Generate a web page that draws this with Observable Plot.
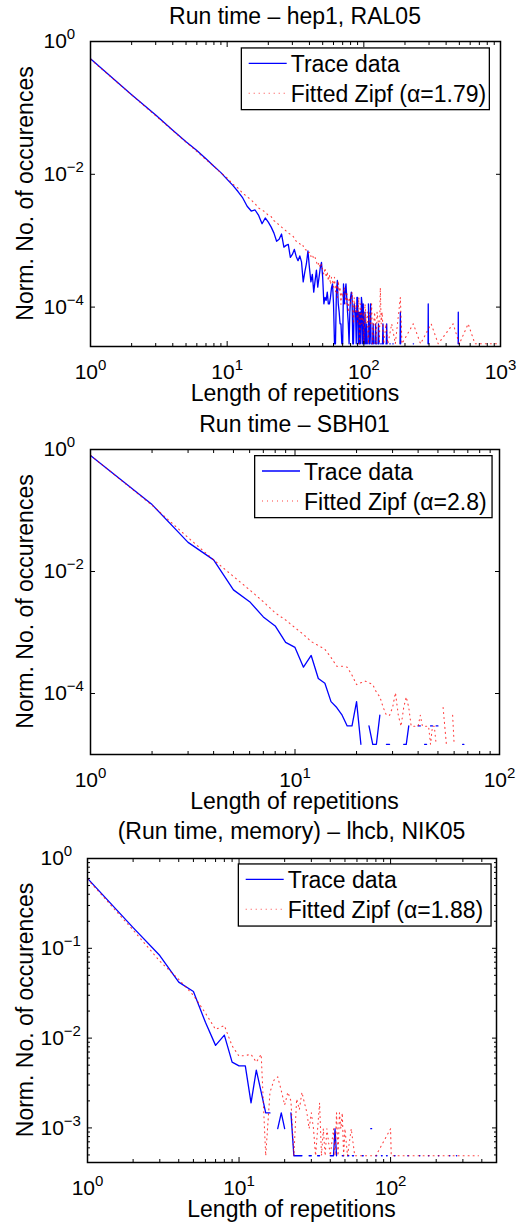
<!DOCTYPE html>
<html><head><meta charset="utf-8">
<script src="https://cdn.jsdelivr.net/npm/d3@7"></script>
<script src="https://cdn.jsdelivr.net/npm/@observablehq/plot@0.6"></script>
<style>
body{margin:0;background:#fff;font-family:"Liberation Sans",Arial,sans-serif;}
.panel{position:relative;width:518px;height:408px;}
</style></head><body><div id="wrap"></div>
<script>
// ---------- data ----------
const titles = ["Run time \u2013 hep1, RAL05", "Run time \u2013 SBH01", "(Run time, memory) \u2013 lhcb, NIK05"];
const xLabel = "Length of repetitions";
const yLabel = "Norm. No. of occurences";
const seriesNames = ["Trace data", "Fitted Zipf"];
const alphas = ["1.79", "2.8", "1.88"];

const trace1 = [[1,0.55],[2,0.158],[3,0.078],[4,0.046],[5,0.031],[6,0.0228],[7,0.0172],[8,0.0132],[9,0.0106],[10,0.0084],
[11,0.0068],[12,0.0055],[13,0.0044],[14,0.0033],[15,0.0028],[16,0.0029],[17,0.0024],[18,0.0018],[19,0.0022],[20,0.0019],
[21,0.0016],[22,0.0013],[23,0.00098],[24,0.00105],[25,0.00126],[26,0.0008],[27,0.00085],[28,0.00088],[29,0.00056],[30,0.00062],
[31,0.00074],[32,0.00058],[33,0.0005],[34,0.00059],[35,0.00048],[36,0.00024],[37,0.00034],[38,0.00045],[39,0.0007],[40,0.00039],
[41,0.00024],[42,0.00031],[43,0.000168],[44,0.00025],[45,0.00036],[46,0.0002],[47,0.00028],[48,0.00039],[49,0.00047],[50,0.00028],
[51,0.000112],[52,0.00014],[53,0.000126],[54,0.000168],[55,0.000112],[56,0.000112],[57,0.00014],[58,0.000196],[59,0.000224],[60,0.000112],
[61,2.8e-5],[62,2.8e-5],[63,0.000168],[64,0.000252],[65,0.000112],[66,0.000084],[67,0.000056],[68,0.000056],[69,2.8e-5],[70,2.8e-5],
[71,0.000224],[72,0.000112],[73,0.000168],[74,0.000224],[75,0.00014],[76,0.000084],[77,0.000056],[78,2.8e-5],[79,0.000084],[80,0.00014],
[81,0.000168],[82,0.00014],[83,2.8e-5],[84,2.8e-5],[85,0.000112],[86,0.000084],[87,0.000084],[88,2.8e-5],[89,0.00014],[90,0.00014],
[91,2.8e-5],[92,0.000084],[93,2.8e-5],[94,0.000084],[95,2.8e-5],[96,0.00014],[97,0.000112],[98,2.8e-5],[99,0.000112],[100,2.8e-5],
[101,2.8e-5],[102,0.000084],[103,2.8e-5],[104,2.8e-5],[105,0.000056],[106,2.8e-5],[107,null],[108,0.000112],[109,2.8e-5],[110,2.8e-5],
[112,0.000112],[113,2.8e-5],[114,2.8e-5],[115,null],[116,2.8e-5],[117,0.000056],[118,2.8e-5],[119,null],
[121,2.8e-5],[122,0.000056],[123,2.8e-5],[124,2.8e-5],[125,null],[127,2.8e-5],[128,0.000056],[129,2.8e-5],[130,null],
[133,2.8e-5],[134,2.8e-5],[135,null],[137,2.8e-5],[138,0.000056],[139,2.8e-5],[140,null],
[145,2.8e-5],[146,2.8e-5],[147,0.000056],[148,2.8e-5],[149,null],[155,2.8e-5],[156,2.8e-5],[157,null],
[163,2.8e-5],[164,2.8e-5],[165,null],[184,2.8e-5],[185,0.000084],[186,2.8e-5],[187,null],
[230,2.8e-5],[231,2.8e-5],[232,null],[295,2.8e-5],[296,0.000112],[297,2.8e-5],[298,null],
[490,2.8e-5],[491,0.000084],[492,2.8e-5]];

const fit1 = [[1,0.54],[2,0.157],[3,0.076],[4,0.0455],[5,0.0305],[6,0.0221],[7,0.0166],[8,0.0132],[9,0.0105],[10,0.0088],
[11,0.0071],[12,0.0062],[13,0.0052],[14,0.0046],[15,0.0041],[16,0.0036],[17,0.0031],[18,0.0029],[19,0.0027],[20,0.0024],
[21,0.0023],[22,0.002],[23,0.0019],[24,0.0017],[25,0.0016],[26,0.0015],[27,0.0014],[28,0.0013],[29,0.00125],[30,0.0012],
[31,0.0011],[32,0.00098],[33,0.00096],[34,0.0009],[35,0.00082],[36,0.00084],[37,0.00074],[38,0.00072],[39,0.00065],[40,0.00067],
[41,0.00058],[42,0.00062],[43,0.00053],[44,0.00056],[45,0.00048],[46,0.00042],[47,0.00047],[48,0.00039],[49,0.00044],[50,0.00036],
[51,0.00031],[52,0.00039],[53,0.00028],[54,0.00034],[55,0.00025],[56,0.00031],[57,0.00022],[58,0.00028],[59,0.00025],[60,0.0002],
[61,0.00028],[62,0.00017],[63,0.00022],[64,0.00014],[65,0.00025],[66,0.00017],[67,0.0002],[68,0.00011],[69,0.00017],[70,0.00014],
[72,0.0002],[74,0.000112],[75,0.00017],[77,0.000084],[78,0.00014],[80,0.000112],[82,0.000168],[84,0.000056],[85,0.00014],[87,0.000084],
[88,0.000112],[90,0.000056],[92,0.00014],[93,2.8e-5],[95,0.000112],[97,0.000056],[99,0.000084],[100,2.8e-5],[102,0.000112],[104,0.000056],
[106,0.000084],[108,2.8e-5],[110,0.000084],[112,0.000056],[114,0.000112],[116,2.8e-5],[118,0.000056],[120,0.000084],[123,2.8e-5],[125,0.000084],
[128,0.000056],[130,2.8e-5],[132,0.000196],[134,0.000056],[136,0.000084],[140,2.8e-5],[145,0.000056],[150,2.8e-5],[160,0.000056],[170,2.8e-5],
[180,0.000084],[185,0.00014],[190,2.8e-5],[230,0.000056],[260,2.8e-5],[311,0.000056],[350,2.8e-5],[450,0.000056],[500,2.8e-5],[580,0.000056],[650,2.8e-5],[1000,2.8e-5]];

const trace2 = [[1,0.8],[2,0.125],[3,0.03],[4,0.0155],[5,0.005],[6,0.0032],[7,0.0018],[8,0.00128],[9,0.00069],[10,0.00057],
[11,0.00027],[12,0.00042],[13,0.000176],[14,0.000147],[15,0.0000735],[16,0.0000588],[17,0.0000441],[18,0.0000294],[19,0.0000294],[20,0.0000735],
[21,0.0000147],[22,null],[23,0.0000294],[24,0.0000147],[25,0.0000147],[26,0.0000441],[27,null],[28,0.0000147],[29,0.0000147],[30,null],
[34,0.0000147],[35,0.0000147],[36,0.0000294],[37,null],[40,0.0000294],[41,0.0000294],[42,null],[43,0.0000147],[44,0.0000147],[45,null],
[46,0.0000294],[47,0.0000294],[48,null],[49,0.0000294],[50,0.0000294],[51,null],[66,0.0000147],[67,0.0000147]];

const fit2 = [[1,0.8],[2,0.122],[3,0.036],[4,0.0155],[5,0.0083],[6,0.005],[7,0.0032],[8,0.0021],[9,0.0016],[10,0.0012],
[11,0.00093],[12,0.00071],[13,0.00061],[14,0.00053],[15,0.00039],[16,0.00028],[17,0.00028],[18,0.00027],[19,0.0002],[20,0.00014],
[21,0.00015],[22,0.00016],[23,0.00015],[24,0.00014],[25,0.000105],[26,0.000088],[27,0.000059],[28,0.000044],[29,0.000044],[30,0.000059],
[31,0.000103],[32,0.000044],[33,0.000029],[34,0.000059],[35,0.000088],[36,0.000059],[37,0.000029],[38,0.000029],[39,0.000029],[40,0.000029],
[41,0.000044],[42,0.000029],[43,0.000029],[44,0.000029],[45,0.000029],[46,0.0000147],[47,0.000029],[48,0.000029],[49,0.0000147],[50,null],
[53,0.000059],[54,0.000029],[55,0.0000147],[56,0.0000147],[57,null],[59,0.000044],[60,0.0000147],[61,null]];

const trace3 = [[1,0.6],[2,0.17],[3,0.083],[4,0.042],[5,0.033],[6,0.015],[7,0.0083],[8,0.0108],[9,0.0054],[10,0.0049],
[11,0.0049],[12,0.0019],[13,0.0044],[14,0.0025],[15,0.00147],[16,0.00147],[17,null],[18,0.00098],[19,0.00147],[20,0.00098],
[21,null],[22,0.00147],[23,0.00049],[24,0.00049],[25,0.00049],[26,0.00049],[27,null],[29,0.00049],[30,0.00049],[31,null],
[33,0.00049],[34,0.00049],[35,null],[40,0.00049],[41,0.00049],[42,0.00049],[43,0.00098],[44,0.00049],[45,null],
[48,0.00049],[49,0.00049],[50,null],[52,0.00049],[53,0.00049],[54,null],[56,0.00049],[57,0.00049],[58,null],
[65,0.00049],[66,0.00049],[67,null],[74,0.00098],[75,0.00098],[76,null],[80,0.00049],[81,0.00049],[82,null],
[87,0.00049],[88,0.00049],[89,null],[94,0.00049],[95,0.00049],[96,null],[106,0.00049],[107,0.00049],[108,null],
[130,0.00049],[131,0.00049],[132,null],[155,0.00049],[156,0.00049],[157,null],[178,0.00049],[179,0.00049],[180,null],
[207,0.00049],[208,0.00049],[209,null],[245,0.00049],[246,0.00049],[247,null],[272,0.00049],[273,0.00049]];

const fit3 = [[1,0.59],[2,0.16],[3,0.072],[4,0.045],[5,0.03],[6,0.019],[7,0.0125],[8,0.0138],[9,0.0082],[10,0.0063],
[11,0.0064],[12,0.0066],[13,0.0054],[14,0.0066],[15,0.00049],[16,0.0025],[17,0.0034],[18,0.0037],[19,0.0026],[20,0.0018],
[21,0.0025],[22,0.002],[23,0.00049],[24,0.0021],[25,0.0016],[26,0.0025],[27,0.0019],[28,0.0015],[29,0.00098],[30,0.00147],
[31,0.00098],[32,0.00049],[33,0.00098],[34,0.0019],[35,0.00049],[36,0.00098],[37,0.00049],[38,0.00098],[40,0.00049],[42,0.00098],
[43,0.00049],[44,0.00147],[45,0.00049],[46,0.00147],[47,0.00098],[48,0.00147],[49,0.00049],[50,0.00098],[52,0.00049],[55,0.00098],
[58,0.00049],[65,0.00049],[70,0.00049],[80,0.00049],[100,0.00098],[101,0.00049],[120,0.00049],[150,0.00049],[200,0.00049],[250,0.00049],[300,0.00049],[380,0.00049]];

// ticks and tick labels
const xMajor1 = [1, 10, 100, 1000];
const xMajorLabels1 = ["10^0", "10^1", "10^2", "10^3"];
const xMinor1 = [2,3,4,5,6,7,8,9,20,30,40,50,60,70,80,90,200,300,400,500,600,700,800,900];
const xMajor2 = [1, 10, 100];
const xMajorLabels2 = ["10^0", "10^1", "10^2"];
const xMinor2 = [2,3,4,5,6,7,8,9,20,30,40,50,60,70,80,90];
const xMinor3 = [2,3,4,5,6,7,8,9,20,30,40,50,60,70,80,90,200,300,400];
const yMajorA = [1, 0.01, 0.0001];
const yMajorLabelsA = ["10^0", "10^\u22122", "10^\u22124"];
const yMajor3 = [1, 0.1, 0.01, 0.001];
const yMajorLabels3 = ["10^0", "10^\u22121", "10^\u22122", "10^\u22123"];
const yMinor3 = [0.9,0.8,0.7,0.6,0.5,0.4,0.3,0.2,0.09,0.08,0.07,0.06,0.05,0.04,0.03,0.02,
  0.009,0.008,0.007,0.006,0.005,0.004,0.003,0.002,0.0009,0.0008,0.0007,0.0006,0.0005];

// ---------- layout ----------
const panels = [
  {trace: trace1, fit: fit1, xDomain: [1, 1000], yDomain: [2.55e-5, 1], xMajor: xMajor1, xLabels: xMajorLabels1, xMinor: xMinor1,
   yMajor: yMajorA, yLabels: yMajorLabelsA, yMinor: [], mt: 41, ml: 90, mr: 18, titleBase: 24, legend: {left: 240.7, top: 47.3, w: 249.3, h: 63}},
  {trace: trace2, fit: fit2, xDomain: [1, 100], yDomain: [1e-5, 1], xMajor: xMajor2, xLabels: xMajorLabels2, xMinor: xMinor2,
   yMajor: yMajorA, yLabels: yMajorLabelsA, yMinor: [], mt: 41, ml: 90, mr: 19, titleBase: 24, legend: {left: 254, top: 47, w: 238.7, h: 63.3}},
  {trace: trace3, fit: fit3, xDomain: [1, 500], yDomain: [4.12e-4, 1], xMajor: xMajor2, xLabels: xMajorLabels2, xMinor: xMinor3,
   yMajor: yMajor3, yLabels: yMajorLabels3, yMinor: yMinor3, mt: 42, ml: 87, mr: 22, titleBase: 23, legend: {left: 237.7, top: 47.3, w: 254, h: 63.4}}
];
const W = 518, H = 408, MB = 62;
const FONT = "'Liberation Sans', Arial, sans-serif";
const RED_DASH = "1,4";
const wrap = document.getElementById("wrap");
const toObjs = arr => arr.map(([x, y]) => ({x, y}));

panels.forEach((p, k) => {
  const div = document.createElement("div");
  div.className = "panel";
  wrap.appendChild(div);
  const xLab = new Map(p.xMajor.map((v, i) => [v, p.xLabels[i]]));
  const yLab = new Map(p.yMajor.map((v, i) => [v, p.yLabels[i]]));
  const blank = () => "";
  const marks = [
    Plot.line(toObjs(p.trace), {x: "x", y: "y", stroke: "#0000ff", strokeWidth: 1.3, clip: true}),
    Plot.line(toObjs(p.fit), {x: "x", y: "y", stroke: "#ff0000", strokeWidth: 1.1, strokeDasharray: RED_DASH, strokeOpacity: 0.75, clip: true}),
    Plot.frame({stroke: "black", strokeWidth: 1.5}),
    Plot.axisX({anchor: "bottom", ticks: p.xMajor, tickSize: -5, tickPadding: 23, tickFormat: d => xLab.get(d), label: null}),
    Plot.axisX({anchor: "bottom", ticks: p.xMinor, tickSize: -3, tickFormat: blank, label: null}),
    Plot.axisX({anchor: "top", ticks: p.xMajor, tickSize: -5, tickFormat: blank, label: null}),
    Plot.axisX({anchor: "top", ticks: p.xMinor, tickSize: -3, tickFormat: blank, label: null}),
    Plot.axisY({anchor: "left", ticks: p.yMajor, tickSize: -5, tickPadding: 52, textAnchor: "start", tickFormat: d => yLab.get(d), label: null}),
    Plot.axisY({anchor: "right", ticks: p.yMajor, tickSize: -5, tickFormat: blank, label: null})
  ];
  if (p.yMinor.length) {
    marks.push(Plot.axisY({anchor: "left", ticks: p.yMinor, tickSize: -3, tickFormat: blank, label: null}));
    marks.push(Plot.axisY({anchor: "right", ticks: p.yMinor, tickSize: -3, tickFormat: blank, label: null}));
  }
  const chart = Plot.plot({
    width: W, height: H,
    marginTop: p.mt, marginBottom: MB, marginLeft: p.ml, marginRight: p.mr,
    x: {type: "log", domain: p.xDomain},
    y: {type: "log", domain: p.yDomain},
    style: {fontFamily: FONT, fontSize: "21px", color: "black", background: "white", overflow: "visible"},
    marks
  });
  // superscript exponents in tick labels
  chart.querySelectorAll("text").forEach(t => {
    const s = t.textContent;
    const i = s.indexOf("^");
    if (i < 0 || t.children.length) return;
    t.textContent = s.slice(0, i);
    const ts = document.createElementNS("http://www.w3.org/2000/svg", "tspan");
    ts.setAttribute("dy", "-9");
    ts.setAttribute("font-size", "15");
    ts.textContent = s.slice(i + 1);
    t.appendChild(ts);
  });
  chart.style.position = "absolute";
  chart.style.left = "0px";
  chart.style.top = "0px";
  div.appendChild(chart);

  // overlay: title, axis labels, legend
  const cx = p.ml + (W - p.ml - p.mr) / 2;
  const cy = p.mt + (H - p.mt - MB) / 2;
  const ov = d3.create("svg").attr("width", W).attr("height", H)
    .style("position", "absolute").style("left", "0px").style("top", "0px")
    .style("font-family", FONT).style("font-size", "23px").style("overflow", "visible");
  ov.append("text").attr("x", cx).attr("y", p.titleBase).attr("text-anchor", "middle").attr("fill", "black").text(titles[k]);
  ov.append("text").attr("x", cx).attr("y", 401).attr("text-anchor", "middle").attr("fill", "black").text(xLabel);
  ov.append("text").attr("transform", `translate(25,${cy}) rotate(-90)`).attr("dy", "0.35em")
    .attr("text-anchor", "middle").attr("fill", "black").text(yLabel);

  const L = p.legend;
  const lg = ov.append("g").attr("transform", `translate(${L.left},${L.top})`);
  lg.append("rect").attr("x", 0.65).attr("y", 0.65).attr("width", L.w - 1.3).attr("height", L.h - 1.3)
    .attr("fill", "white").attr("stroke", "black").attr("stroke-width", 1.3);
  lg.append("line").attr("x1", 8).attr("x2", 46).attr("y1", 16).attr("y2", 16).attr("stroke", "#0000ff").attr("stroke-width", 1.3);
  lg.append("line").attr("x1", 8).attr("x2", 46).attr("y1", 46).attr("y2", 46).attr("stroke", "#ff0000").attr("stroke-width", 1.1)
    .attr("stroke-dasharray", RED_DASH).attr("stroke-opacity", 0.75);
  lg.append("text").attr("x", 50).attr("y", 24.5).attr("fill", "black").text(seriesNames[0]);
  lg.append("text").attr("x", 50).attr("y", 55).attr("fill", "black").text(`${seriesNames[1]} (\u03b1=${alphas[k]})`);
  div.appendChild(ov.node());
});
</script></body></html>
